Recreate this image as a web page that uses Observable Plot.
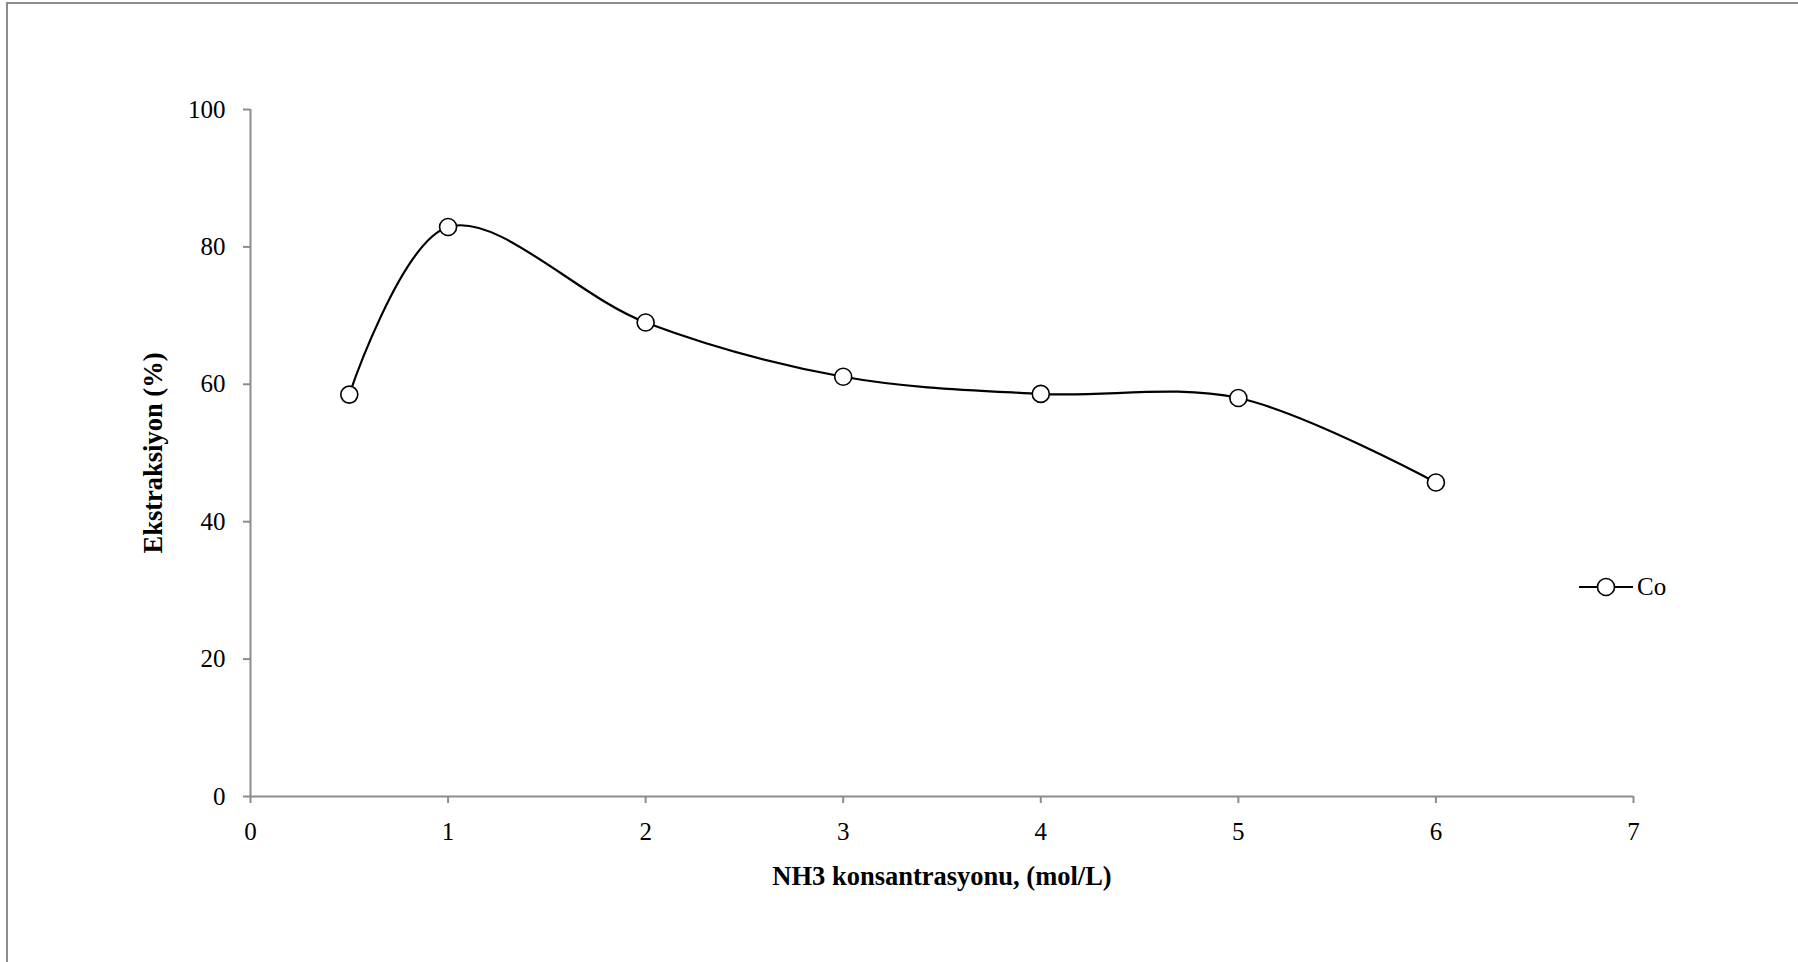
<!DOCTYPE html>
<html>
<head>
<meta charset="utf-8">
<script src="https://cdn.jsdelivr.net/npm/d3@7"></script>
<script src="https://cdn.jsdelivr.net/npm/@observablehq/plot@0.6"></script>
<style>
  html, body { margin: 0; padding: 0; background: #fff; }
  body { width: 1798px; height: 962px; overflow: hidden; position: relative; }
  #frame { position: absolute; left: 6px; top: 2px; width: 1800px; height: 970px; border: 2px solid #8c8c8c; box-sizing: border-box; pointer-events: none; }
  #chart { position: absolute; left: 0; top: 0; }
  #legend { position: absolute; left: 1579px; top: 573px; height: 28px; display: flex; align-items: center; font-family: "Liberation Serif", "Times New Roman", serif; font-size: 25px; color: #000; }
  #legend svg { display: block; }
</style>
</head>
<body>
<div id="chart"></div>
<div id="legend"><svg width="54" height="28"><line x1="0" y1="14" x2="54" y2="14" stroke="#000" stroke-width="2.2"/><circle cx="27" cy="14" r="8.5" fill="#fff" stroke="#000" stroke-width="1.6"/></svg><span style="margin-left:4px">Co</span></div>
<div id="frame"></div>
<script>
const concentration = [0.5, 1, 2, 3, 4, 5, 6];
const extraction = [58.5, 82.9, 69.0, 61.1, 58.6, 58.0, 45.7];
const xTicks = [0, 1, 2, 3, 4, 5, 6, 7];
const yTicks = [0, 20, 40, 60, 80, 100];
const seriesName = "Co";

const data = concentration.map((c, i) => ({x: c, y: extraction[i], series: seriesName}));
const font = "Liberation Serif, Times New Roman, serif";

const chart = Plot.plot({
  width: 1798,
  height: 962,
  marginLeft: 250,
  marginRight: 165,
  marginTop: 109,
  marginBottom: 166,
  style: {fontFamily: font, fontSize: "25px", background: "transparent", color: "#000"},
  x: {domain: [0, 7]},
  y: {domain: [0, 100]},
  marks: [
    Plot.ruleY([0], {stroke: "#8c8c8c", strokeWidth: 2}),
    Plot.ruleX([0], {stroke: "#8c8c8c", strokeWidth: 2}),
    Plot.axisX({ticks: xTicks, tickSize: 7, tickPadding: 19, stroke: "#8c8c8c", strokeWidth: 2, fill: "#000", fontSize: 25, tickFormat: d => String(d), label: null}),
    Plot.axisY({ticks: yTicks, tickSize: 7, tickPadding: 18, stroke: "#8c8c8c", strokeWidth: 2, fill: "#000", fontSize: 25, tickFormat: d => String(d), label: null}),
    Plot.line(data, {x: "x", y: "y", curve: "catmull-rom", stroke: "#000", strokeWidth: 2.2}),
    Plot.dot(data, {x: "x", y: "y", r: 8.5, fill: "#fff", stroke: "#000", strokeWidth: 1.6}),
    Plot.text(["NH3 konsantrasyonu, (mol/L)"], {frameAnchor: "bottom", dy: 88, text: d => d, fontWeight: "bold", fontSize: 26.5, fill: "#000"}),
    Plot.text(["Ekstraksiyon (%)"], {frameAnchor: "left", dx: -97, rotate: -90, textAnchor: "middle", text: d => d, fontWeight: "bold", fontSize: 26.5, fill: "#000"})
  ]
});
document.getElementById("chart").appendChild(chart);
</script>
</body>
</html>
